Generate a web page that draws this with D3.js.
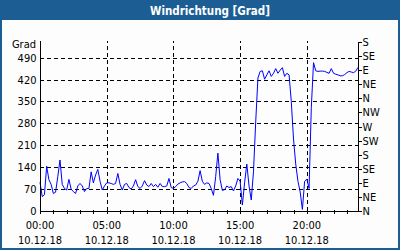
<!DOCTYPE html>
<html><head><meta charset="utf-8">
<script src="https://cdn.jsdelivr.net/npm/d3@7"></script>
<style>
html,body{margin:0;padding:0;background:#fcfdfc;}
svg{display:block;}
text{font-family:"DejaVu Sans Condensed","DejaVu Sans",sans-serif;}
</style></head><body>
<svg id="chart" width="400" height="250"></svg>
<script>
const title = "Windrichtung [Grad]";
const unitLabel = "Grad";
const dateLabel = "10.12.18";
const intervalMinutes = 10;
const directionValues = [
  92,46,52,143,100,85,56,60,110,163,85,72,67,101,70,62,56,80,88,80,62,72,72,125,
  90,115,133,95,67,80,90,90,88,85,88,120,85,67,85,88,75,70,80,100,78,72,80,97,
  83,78,88,78,85,76,88,78,78,80,104,75,72,78,86,90,93,94,88,75,72,80,83,95,
  129,95,85,90,88,72,50,110,185,100,66,68,80,75,78,64,80,104,95,19,90,150,80,35,
  125,285,425,446,448,421,435,448,430,440,455,440,450,458,430,440,435,350,230,150,95,61,5,95,
  102,72,330,474,448,446,447,447,446,443,440,455,440,437,435,432,432,436,442,446,444,442,447,459
];
const leftTicks = [0,70,140,210,280,350,420,490];
const compassTicks = [0,45,90,135,180,225,270,315,360,405,450,495,540];
const compassLabels = ["N","NE","E","SE","S","SW","W","NW","N","NE","E","SE","S"];
const hourTicks = [0,1,2,3,4,5,6,7,8,9,10,11,12,13,14,15,16,17,18,19,20,21,22,23];
const labelHours = [0,5,10,15,20];
const timeLabels = ["00:00","05:00","10:00","15:00","20:00"];

const W = 400, H = 250;
const blue = "#1c5e93";
const plot = {left: 40, right: 358, top: 42, bottom: 211};
const fs = "11px";

const svg = d3.select("#chart");
svg.append("rect").attr("x",0).attr("y",0).attr("width",W).attr("height",H).attr("fill","#fcfdfc");
svg.append("rect").attr("x",0).attr("y",0).attr("width",W).attr("height",20).attr("fill",blue);
svg.append("rect").attr("x",1).attr("y",1).attr("width",W-2).attr("height",H-2)
  .attr("fill","none").attr("stroke",blue).attr("stroke-width",2);
svg.append("text").attr("x",210).attr("y",14.5).attr("text-anchor","middle")
  .attr("fill","#fff").attr("font-weight","bold").attr("font-size","11.5px").text(title);

const lastMinute = (directionValues.length-1)*intervalMinutes;
const x = d3.scaleLinear().domain([0,lastMinute]).range([plot.left, plot.right]);
const y = d3.scaleLinear().domain([0,540]).range([plot.bottom, plot.top]);

const g = svg.append("g");
g.selectAll(".hg").data(leftTicks.filter(d=>d>0)).join("line")
  .attr("x1",plot.left).attr("x2",plot.right)
  .attr("y1",d=>Math.round(y(d))+0.5).attr("y2",d=>Math.round(y(d))+0.5)
  .attr("stroke","#000").attr("stroke-dasharray","4,3").attr("shape-rendering","crispEdges");
g.selectAll(".vg").data(labelHours.filter(d=>d>0)).join("line")
  .attr("x1",d=>Math.round(x(d*60))+0.5).attr("x2",d=>Math.round(x(d*60))+0.5)
  .attr("y1",plot.bottom).attr("y2",plot.top-1)
  .attr("stroke","#000").attr("stroke-dasharray","4,3").attr("shape-rendering","crispEdges");

const line = d3.line().x((d,i)=>x(i*intervalMinutes)).y(d=>y(d));
g.append("path").datum(directionValues).attr("d",line)
  .attr("fill","none").attr("stroke","#0000ff").attr("stroke-width",1);

const left = svg.append("g").attr("transform",`translate(${plot.left+0.5},0)`)
  .call(d3.axisLeft(y).tickValues(leftTicks).tickSize(0).tickPadding(4));
left.select(".domain").attr("d",`M0,${plot.top-1}V${plot.bottom}`).attr("stroke","#000").attr("shape-rendering","crispEdges");
left.selectAll("text").attr("font-size",fs).attr("fill","#000").attr("font-family",null);

svg.append("text").attr("x",36).attr("y",48).attr("text-anchor","end")
  .attr("font-size",fs).attr("fill","#000").text(unitLabel);

const right = svg.append("g").attr("transform",`translate(${plot.right+0.5},0)`)
  .call(d3.axisRight(y).tickValues(compassTicks).tickSize(3).tickPadding(1)
    .tickFormat((d,i)=>compassLabels[i]));
right.select(".domain").attr("d",`M0,${plot.top}V${plot.bottom}`).attr("stroke","#000").attr("shape-rendering","crispEdges");
right.selectAll("line").attr("stroke","#000").attr("shape-rendering","crispEdges");
right.selectAll("text").attr("font-size",fs).attr("fill","#000").attr("font-family",null);

const bottom = svg.append("g").attr("transform",`translate(0,${plot.bottom+0.5})`)
  .call(d3.axisBottom(x).tickValues(hourTicks.map(h=>h*60)).tickSize(3).tickFormat(""));
bottom.select(".domain").attr("d",`M${plot.left},0H${plot.right+1}`).attr("stroke","#000").attr("shape-rendering","crispEdges");
bottom.selectAll(".tick line").attr("y1",-2).attr("y2",2).attr("stroke","#000").attr("shape-rendering","crispEdges");

const lbl = svg.append("g");
lbl.selectAll(".t1").data(labelHours).join("text")
  .attr("x",d=>x(d*60)).attr("y",229).attr("text-anchor","middle")
  .attr("font-size",fs).attr("fill","#000").text((d,i)=>timeLabels[i]);
lbl.selectAll(".t2").data(labelHours).join("text")
  .attr("x",d=>x(d*60)).attr("y",244).attr("text-anchor","middle")
  .attr("font-size",fs).attr("fill","#000").text(dateLabel);
</script>
</body></html>
